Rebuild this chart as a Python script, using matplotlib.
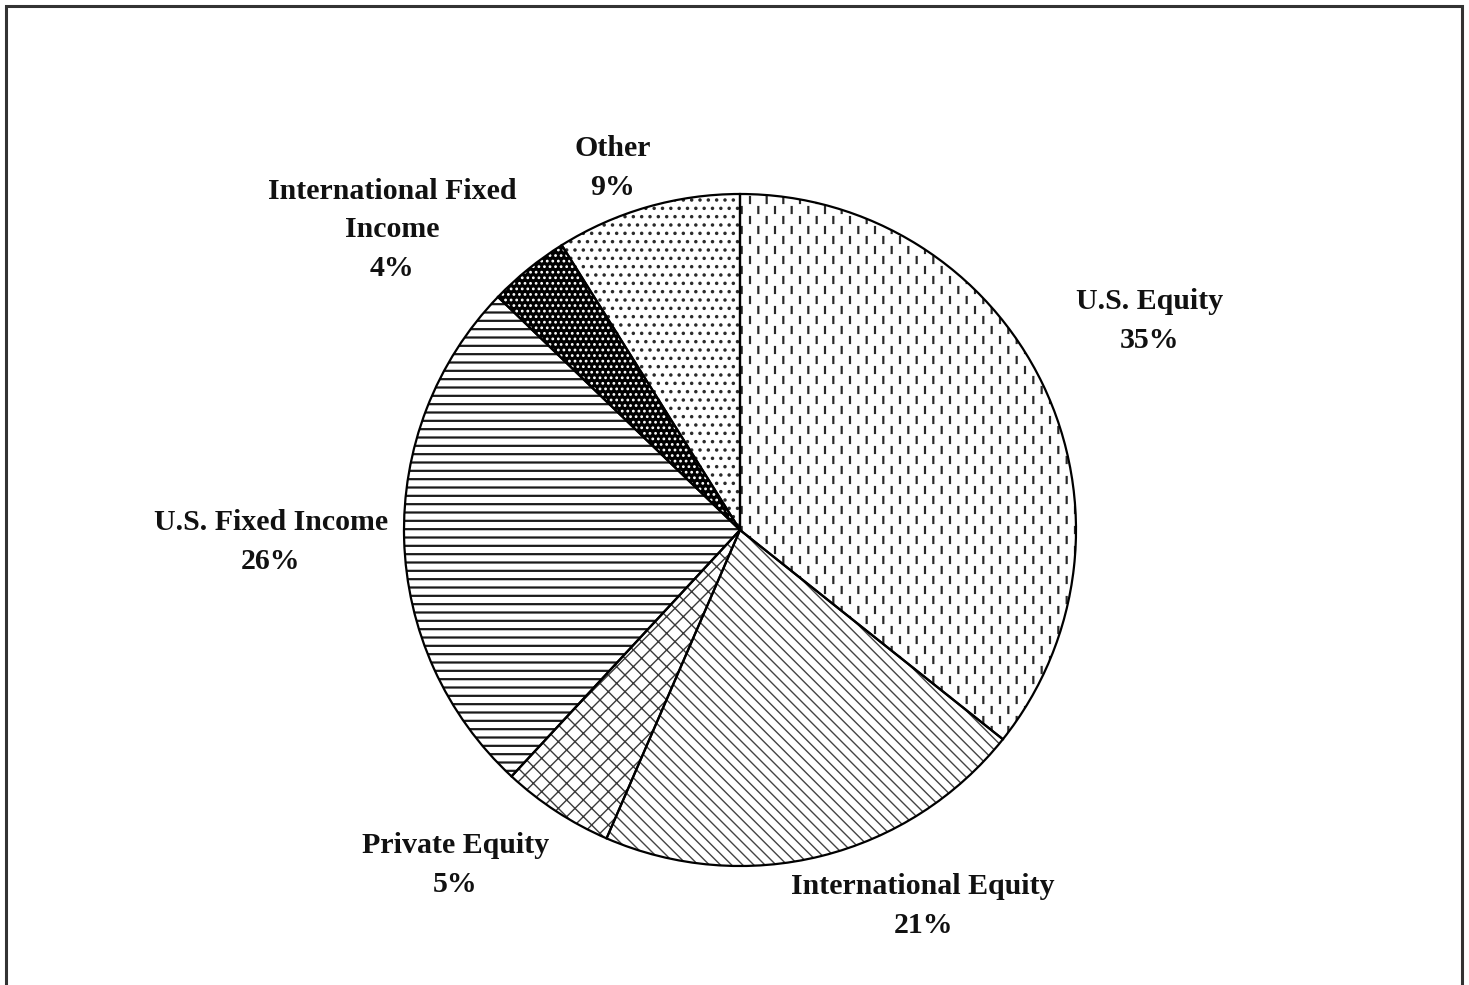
import numpy as np
import matplotlib
matplotlib.use('Agg')
import matplotlib.pyplot as plt
import matplotlib.hatch as mhatch
from matplotlib.path import Path
from matplotlib.patches import Rectangle


class DashHatch(mhatch.HatchPatternBase):
    # short vertical dashes in staggered rows, takes the '*' hatch slot
    def __init__(self, hatch, density):
        n = hatch.count('*')
        verts = []
        codes = []
        if n:
            rows = 5 * n
            cols = 3 * n
            dy = 1.0 / rows
            dx = 1.0 / cols
            h = 0.034
            w = 0.004
            for r in range(rows + 1):
                xs = np.linspace(0, 1, cols + 1) if r % 2 == 0 else np.linspace(dx / 2, 1 - dx / 2, cols)
                for x in xs:
                    y = r * dy
                    verts += [[x - w, y - h], [x + w, y - h], [x + w, y + h], [x - w, y + h], [x - w, y - h]]
                    codes += [Path.MOVETO, Path.LINETO, Path.LINETO, Path.LINETO, Path.CLOSEPOLY]
        self.verts = np.array(verts).reshape(-1, 2)
        self.codes = np.array(codes, dtype=Path.code_type)
        self.num_vertices = len(self.verts)

    def set_vertices_and_codes(self, vertices, codes):
        vertices[:] = self.verts
        codes[:] = self.codes


mhatch._hatch_types = [DashHatch if t is mhatch.Stars else t for t in mhatch._hatch_types]

labels = ['U.S. Equity', 'International Equity', 'Private Equity',
          'U.S. Fixed Income', 'International Fixed\nIncome', 'Other']
pct_labels = [35, 21, 5, 26, 4, 9]
sizes = [35.7, 20.8, 5.4, 25.3, 3.9, 8.9]

hatches = ['**', '\\\\\\', 'xx', '--', '...', '..']
faces = ['white', 'white', 'white', 'white', 'black', 'white']
hatch_cols = ['#2a2a2a', '#444444', '#3a3a3a', '#1a1a1a', 'white', '#2a2a2a']
hatch_lws = [1.0, 1.0, 1.0, 1.6, 1.2, 1.3]

# label centres, in pie radius units
label_pos = [(1.22, 0.622), (0.545, -1.119), (-0.848, -0.997),
             (-1.396, -0.036), (-1.036, 0.893), (-0.378, 1.077)]

plt.rcParams['font.family'] = ['Liberation Serif', 'DejaVu Serif']

fig = plt.figure(figsize=(14.69, 9.85), dpi=100)
ax = fig.add_axes([0, 0, 1, 1])

wedges, _ = ax.pie(sizes, startangle=90, counterclock=False, radius=1)
for w, h, fc, hc, hl in zip(wedges, hatches, faces, hatch_cols, hatch_lws):
    w.set_facecolor(fc)
    w.set_edgecolor(hc)
    w.set_linewidth(0)
    w.set_hatch(h)
    if hasattr(w, 'set_hatch_linewidth'):
        w.set_hatch_linewidth(hl)

# black outlines on top
ax.pie(sizes, startangle=90, counterclock=False, radius=1,
       wedgeprops=dict(facecolor='none', edgecolor='black', linewidth=1.6))

for lab, v, (x, y) in zip(labels, pct_labels, label_pos):
    ax.text(x, y, '%s\n%d%%' % (lab, v), ha='center', va='center',
            fontsize=21.5, fontweight='bold', linespacing=1.55, color='#111111')

ax.set_aspect('auto')
ax.set_xlim(-740 / 336, 729 / 336)
ax.set_ylim(-455 / 336, 530 / 336)
ax.axis('off')

fig.patches.append(Rectangle((6 / 1469, -0.02), 1456 / 1469, 1 - 6 / 985 + 0.02,
                             transform=fig.transFigure, fill=False,
                             edgecolor='#333333', linewidth=2.2))

fig.savefig('out.png', dpi=100)
